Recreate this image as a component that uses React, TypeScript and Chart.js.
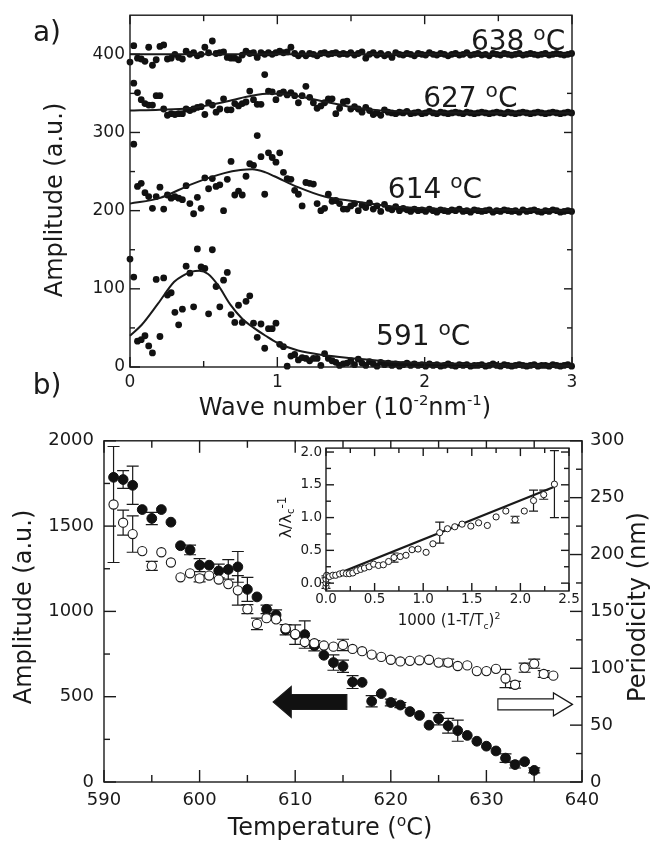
import React, { useEffect, useRef } from "react";
import { Chart, registerables } from "chart.js";
Chart.register(...registerables);

const FONT = "'DejaVu Sans', sans-serif";
const INK = "#1a1a1a";

// ---------- Panel a: amplitude spectra ----------
const WAVE_STEP = 0.0254;
const S591 = [138,115,33,35,40,27,18,112,39,114,92,95,70,54,74,129,120,77,151,128,126,68,150,103,77,111,121,67,57,79,57,84,91,56,38,55,24,49,49,56,29,26,1,14,16,9,12,11,8,11,11,2,17,11,8,6,2,4,5,
  8,3,10,5,2,7,4,1,6,3,5,2,4,1,3,5,2,4,2,3,1,4,2,3,1,2,4,2,1,3,2,3,1,2,2,3,1,2,4,2,1,3,2,1,2,3,2,1,2,3,1,2,2,1,3,2,1,2,3,1];
const S614 = [null,285,231,235,223,218,203,218,230,202,220,216,218,216,214,232,209,196,217,203,242,228,241,231,233,200,240,263,220,225,220,244,260,258,296,269,221,274,268,262,274,249,241,240,226,221,206,236,235,234,209,200,203,221,212,213,209,202,202,206,209,200,
  207,204,210,202,206,199,208,203,201,205,200,203,201,199,202,200,201,199,202,200,198,201,200,199,201,200,202,199,200,198,201,200,199,200,201,198,200,199,201,200,199,200,198,201,199,200,201,199,198,200,199,201,200,198,199,200,199];
const S627 = [null,363,351,342,337,335,335,347,347,330,322,324,323,324,324,330,328,330,332,333,323,338,335,326,330,343,329,329,337,334,337,339,353,342,336,336,374,353,352,342,350,352,348,351,347,338,347,359,345,338,331,334,338,343,343,324,331,339,340,330,
  333,330,326,332,328,323,325,322,329,326,325,324,326,325,327,324,325,326,324,325,327,325,324,326,325,324,325,326,325,324,326,325,324,325,326,325,324,325,326,325,324,326,325,324,325,326,325,324,325,326,325,324,325,326,325,324,325,326,325];
const S638 = [390,411,395,394,391,409,386,393,410,412,394,395,400,396,394,404,400,402,398,400,409,402,417,401,402,403,396,395,395,393,399,404,401,402,396,402,400,402,400,402,404,402,403,409,401,398,401,398,401,400,398,401,402,400,401,402,400,401,400,
  402,399,401,403,395,400,402,399,401,398,400,396,402,400,399,401,400,398,401,400,399,402,400,399,401,400,398,400,401,399,400,402,399,400,401,399,400,398,401,400,399,401,400,399,400,401,399,400,401,400,399,400,401,399,400,401,400,399,400,401];

const FIT591_X = [0,0.08,0.19,0.3,0.36,0.42,0.47,0.53,0.6,0.68,0.76,0.84,0.92,1.0,1.14,1.32,1.52,1.75,2.0,2.5,3.0];
const FIT591_Y = [40,54,81,109,117,122,123,119,104,80,62,50,40,31,21,15,11,7,5,3,2];
const FIT614_X = [0,0.2,0.42,0.64,0.75,0.83,0.92,0.98,1.14,1.32,1.52,1.75,2.0,2.5,3.0];
const FIT614_Y = [209,216,234,248,252,253,249,244,230,218,212,206,203,201,200];
const FIT627_X = [0,0.2,0.4,0.64,0.8,0.95,1.1,1.23,1.41,1.52,1.7,2.0,2.5,3.0];
const FIT627_Y = [328,329,331,339,346,350,348,343,336,332,328,326,325,325];
const FIT638_X = [0,3];
const FIT638_Y = [400,400];

const TEMP_LABELS = ["638", "627", "614", "591"];
const TEMP_LABEL_X = [2.634, 2.31, 2.07, 1.99];
const TEMP_LABEL_Y = [418, 346, 228.5, 41];

const A_X_TICKS = [0, 1, 2, 3];
const A_X_MINOR = [0.5, 1.5, 2.5];
const A_Y_TICKS = [0, 100, 200, 300, 400];
const A_Y_MINOR = [50, 150, 250, 350];

// ---------- Panel b: amplitude and periodicity vs temperature ----------
const T_AMP = [591,592,593,594,595,596,597,598,599,600,601,602,603,604,605,606,607,608,609,610,611,612,613,614,615,616,617,618,619,620,621,622,623,624,625,626,627,628,629,630,631,632,633,634,635];
const AMP = [1786,1773,1739,1597,1545,1597,1523,1385,1360,1271,1271,1237,1246,1261,1129,1085,1012,979,892,864,864,799,743,700,678,586,584,473,518,466,451,413,390,333,371,330,301,273,239,210,182,140,102,119,68];
const AMP_ERR = [0,52,112,0,36,0,0,0,28,38,0,40,57,90,70,0,25,30,30,57,80,30,0,45,36,38,0,33,0,20,15,0,0,0,36,43,62,0,0,0,0,25,20,0,15];
const T_PER = [591,592,593,594,595,596,597,598,599,600,601,602,603,604,605,606,607,608,609,610,611,612,613,614,615,616,617,618,619,620,621,622,623,624,625,626,627,628,629,630,631,632,633,634,635,636,637];
const PER = [244,228,218,203,190,202,193,180,183.5,179,181.5,178,174,168.5,152,139,144,143,135,130,123,122,120,119,120.5,117,115,112,110,107.5,106,106.5,107,107.5,105,105,102,102.5,97.5,97.5,99.5,91,85.5,100.5,104,95,93.5];
const PER_ERR = [51,11,16,0,4,0,0,0,0,3,0,0,0,13,4,5,0,0,0,0,0,0,0,0,5,0,0,0,0,0,0,0,0,0,0,3,0,0,0,0,0,8,3,4,4,3,0];

const B_X_TICKS = [590, 600, 610, 620, 630, 640];
const B_X_MINOR = [595, 605, 615, 625, 635];
const B_Y_TICKS = [0, 500, 1000, 1500, 2000];
const B_Y_MINOR = [250, 750, 1250, 1750];
const B_Y2_TICKS = [0, 50, 100, 150, 200, 250, 300];
const B_Y2_MINOR = [25, 75, 125, 175, 225, 275];

// arrows (data coordinates on the amplitude axis)
const ARROW_FILLED = { tipT: 607.7, tailT: 615.4, amp: 469 };
const ARROW_OPEN = { tipT: 639.0, tailT: 631.2, amp: 455 };

// ---------- Inset ----------
const INSET_X = [0.0,0.0,0.0,0.007,0.035,0.07,0.10,0.14,0.175,0.21,0.24,0.276,0.317,0.357,0.396,0.444,0.49,0.54,0.59,0.644,0.70,0.764,0.823,0.885,0.947,1.03,1.10,1.17,1.25,1.325,1.40,1.49,1.57,1.66,1.75,1.85,1.945,2.04,2.135,2.24,2.35];
const INSET_Y = [-0.05,0.0,0.06,0.12,0.10,0.12,0.12,0.14,0.155,0.145,0.145,0.155,0.19,0.21,0.23,0.25,0.29,0.27,0.28,0.33,0.39,0.405,0.425,0.51,0.52,0.47,0.60,0.77,0.83,0.86,0.90,0.87,0.92,0.88,1.01,1.10,0.97,1.10,1.26,1.35,1.51];
const INSET_ERR = [0,0.08,0.05,0,0,0,0,0,0,0,0,0,0,0,0,0,0,0,0,0,0.07,0,0,0,0,0,0,0.16,0,0,0,0,0,0,0,0,0.05,0,0.16,0.07,0.51];
const INSET_FIT_X = [0, 2.35];
const INSET_FIT_Y = [0.07, 1.47];
const I_X_TICKS = [0, 0.5, 1.0, 1.5, 2.0, 2.5];
const I_X_MINOR = [0.25, 0.75, 1.25, 1.75, 2.25];
const I_Y_TICKS = [0, 0.5, 1.0, 1.5, 2.0];
const I_Y_MINOR = [0.25, 0.75, 1.25, 1.75];

// ---------- helpers ----------
type Seg = { t: string; k?: "sup" | "sub"; s?: number; d?: number };

function drawRich(ctx: any, segs: Seg[], cx: number, cy: number, size: number, rot = 0) {
  ctx.save();
  ctx.translate(cx, cy);
  if (rot) ctx.rotate(rot);
  const info = segs.map((sg) => {
    const sz = size * (sg.s ?? (sg.k ? 0.62 : 1));
    ctx.font = `${sz}px ${FONT}`;
    return { ...sg, sz, w: ctx.measureText(sg.t).width };
  });
  const total = info.reduce((a, b) => a + b.w, 0);
  let x = -total / 2;
  const base = size * 0.36;
  ctx.fillStyle = INK;
  ctx.textAlign = "left";
  ctx.textBaseline = "alphabetic";
  for (const sg of info) {
    ctx.font = `${sg.sz}px ${FONT}`;
    const dy = sg.d !== undefined ? sg.d * size : sg.k === "sup" ? -size * 0.42 : sg.k === "sub" ? size * 0.22 : 0;
    ctx.fillText(sg.t, x, base + dy);
    x += sg.w;
  }
  ctx.restore();
}

type TickSpec = { axis: string; side: "left" | "right" | "top" | "bottom"; major: number[]; minor: number[]; maj: number; min: number };

function drawFrame(chart: any, specs: TickSpec[]) {
  const { ctx, chartArea: a } = chart;
  ctx.save();
  ctx.strokeStyle = INK;
  ctx.lineWidth = 1.4;
  for (const sp of specs) {
    const sc = chart.scales[sp.axis];
    const one = (vals: number[], len: number) =>
      vals.forEach((v) => {
        const p = sc.getPixelForValue(v);
        ctx.beginPath();
        if (sp.side === "bottom") { ctx.moveTo(p, a.bottom); ctx.lineTo(p, a.bottom - len); }
        if (sp.side === "top") { ctx.moveTo(p, a.top); ctx.lineTo(p, a.top + len); }
        if (sp.side === "left") { ctx.moveTo(a.left, p); ctx.lineTo(a.left + len, p); }
        if (sp.side === "right") { ctx.moveTo(a.right, p); ctx.lineTo(a.right - len, p); }
        ctx.stroke();
      });
    one(sp.major, sp.maj);
    one(sp.minor, sp.min);
  }
  ctx.strokeRect(a.left, a.top, a.right - a.left, a.bottom - a.top);
  ctx.restore();
}

function drawErrors(chart: any, cap: number) {
  const { ctx } = chart;
  ctx.save();
  ctx.strokeStyle = INK;
  ctx.lineWidth = 1.2;
  chart.data.datasets.forEach((ds: any, di: number) => {
    if (!ds.errs) return;
    const meta = chart.getDatasetMeta(di);
    const ys = chart.scales[meta.yAxisID];
    ds.data.forEach((pt: any, i: number) => {
      const e = ds.errs[i];
      if (!e) return;
      const x = meta.data[i].x;
      const y1 = ys.getPixelForValue(pt.y + e);
      const y2 = ys.getPixelForValue(pt.y - e);
      ctx.beginPath();
      ctx.moveTo(x, y1); ctx.lineTo(x, y2);
      ctx.moveTo(x - cap, y1); ctx.lineTo(x + cap, y1);
      ctx.moveTo(x - cap, y2); ctx.lineTo(x + cap, y2);
      ctx.stroke();
    });
  });
  ctx.restore();
}

function pts(xs: number[], ys: (number | null)[]) {
  const out: { x: number; y: number }[] = [];
  xs.forEach((x, i) => { if (ys[i] !== null && ys[i] !== undefined) out.push({ x, y: ys[i] as number }); });
  return out;
}
function wave(ys: (number | null)[]) {
  return pts(ys.map((_, i) => i * WAVE_STEP), ys);
}

function axis(min: number, max: number, ticks: number[], size: number, pad: number, fit: number, horiz: boolean, pos: string, fmt: (v: number) => string) {
  return {
    type: "linear",
    position: pos,
    min,
    max,
    grid: { display: false, drawTicks: false },
    border: { display: false },
    afterBuildTicks: (s: any) => { s.ticks = ticks.map((v) => ({ value: v })); },
    afterFit: (s: any) => { if (horiz) s.height = fit; else s.width = fit; },
    ticks: { font: { family: FONT, size }, color: INK, padding: pad, autoSkip: false, maxRotation: 0, minRotation: 0, callback: (v: number) => fmt(v) },
  };
}

const baseOpts = {
  responsive: false,
  maintainAspectRatio: false,
  devicePixelRatio: 1,
  animation: false,
  events: [],
  plugins: { legend: { display: false }, tooltip: { enabled: false } },
};

function ChartBox({ left, top, width, height, make }: any) {
  const ref = useRef<HTMLCanvasElement>(null);
  useEffect(() => {
    const chart = new Chart(ref.current as HTMLCanvasElement, make());
    return () => chart.destroy();
  }, []);
  return (
    <div style={{ position: "absolute", left, top, width, height }}>
      <canvas ref={ref} width={width} height={height} style={{ width, height, display: "block" }} />
    </div>
  );
}

const fitLine = (xs: number[], ys: number[]) => ({
  type: "line",
  data: pts(xs, ys),
  borderColor: INK,
  borderWidth: 2,
  pointRadius: 0,
  cubicInterpolationMode: "monotone",
  fill: false,
  clip: false,
});
const dots = (ys: (number | null)[]) => ({
  type: "scatter",
  data: wave(ys),
  pointRadius: 3.4,
  pointBackgroundColor: "#111",
  pointBorderWidth: 0,
  showLine: false,
  clip: false,
});

function makeA() {
  return {
    type: "scatter",
    data: {
      datasets: [
        fitLine(FIT591_X, FIT591_Y), fitLine(FIT614_X, FIT614_Y), fitLine(FIT627_X, FIT627_Y), fitLine(FIT638_X, FIT638_Y),
        dots(S591), dots(S614), dots(S627), dots(S638),
      ],
    },
    options: {
      ...baseOpts,
      layout: { padding: { top: 3, right: 83, left: 0, bottom: 0 } },
      scales: {
        x: axis(0, 3, A_X_TICKS, 17, 5, 53, true, "bottom", (v) => String(v)),
        y: axis(0, 450, A_Y_TICKS, 17, 5, 130, false, "left", (v) => String(v)),
      },
    },
    plugins: [{
      id: "decorA",
      afterDraw(chart: any) {
        drawFrame(chart, [
          { axis: "x", side: "bottom", major: A_X_TICKS, minor: A_X_MINOR, maj: 10, min: 6 },
          { axis: "x", side: "top", major: A_X_TICKS, minor: A_X_MINOR, maj: 9, min: 6 },
          { axis: "y", side: "left", major: A_Y_TICKS, minor: A_Y_MINOR, maj: 10, min: 5 },
          { axis: "y", side: "right", major: A_Y_TICKS, minor: A_Y_MINOR, maj: 8, min: 5 },
        ]);
        const { ctx } = chart;
        const xs = chart.scales.x, ys = chart.scales.y;
        TEMP_LABELS.forEach((t, i) => {
          drawRich(ctx, [{ t: t + " " }, { t: "o", k: "sup", s: 0.72, d: -0.36 }, { t: "C" }], xs.getPixelForValue(TEMP_LABEL_X[i]), ys.getPixelForValue(TEMP_LABEL_Y[i]), 28);
        });
        drawRich(ctx, [{ t: "a)" }], 47, 31, 28);
        drawRich(ctx, [{ t: "b)" }], 47, 384, 28);
        drawRich(ctx, [{ t: "Amplitude (a.u.)" }], 53, 200, 24, -Math.PI / 2);
        drawRich(ctx, [{ t: "Wave number (10" }, { t: "-2", k: "sup" }, { t: "nm" }, { t: "-1", k: "sup" }, { t: ")" }], 345, 406, 24);
      },
    }],
  };
}

function arrow(ctx: any, tipX: number, tailX: number, y: number, headLen: number, headH: number, shaftH: number, filled: boolean) {
  const dir = tipX < tailX ? 1 : -1;
  const hb = tipX + dir * headLen;
  ctx.beginPath();
  ctx.moveTo(tipX, y);
  ctx.lineTo(hb, y - headH);
  ctx.lineTo(hb, y - shaftH);
  ctx.lineTo(tailX, y - shaftH);
  ctx.lineTo(tailX, y + shaftH);
  ctx.lineTo(hb, y + shaftH);
  ctx.lineTo(hb, y + headH);
  ctx.closePath();
  ctx.fillStyle = filled ? "#111" : "#fff";
  ctx.fill();
  ctx.strokeStyle = INK;
  ctx.lineWidth = 1.2;
  ctx.stroke();
}

function makeB() {
  return {
    type: "scatter",
    data: {
      datasets: [
        {
          data: pts(T_PER, PER), errs: PER_ERR, yAxisID: "y2",
          pointRadius: 4.6, pointBackgroundColor: "#fff", pointBorderColor: INK, pointBorderWidth: 1.1, showLine: false, clip: false,
        },
        {
          data: pts(T_AMP, AMP), errs: AMP_ERR, yAxisID: "y",
          pointRadius: 4.9, pointBackgroundColor: "#111", pointBorderColor: "#111", pointBorderWidth: 1, showLine: false, clip: false,
        },
      ],
    },
    options: {
      ...baseOpts,
      layout: { padding: { top: 11, right: 0, left: 0, bottom: 0 } },
      scales: {
        x: axis(590, 640, B_X_TICKS, 18, 8, 66, true, "bottom", (v) => String(v)),
        y: axis(0, 2000, B_Y_TICKS, 18, 10, 104, false, "left", (v) => String(v)),
        y2: axis(0, 300, B_Y2_TICKS, 18, 8, 73, false, "right", (v) => String(v)),
      },
    },
    plugins: [{
      id: "decorB",
      beforeDatasetsDraw(chart: any) { drawErrors(chart, 6); },
      afterDraw(chart: any) {
        drawFrame(chart, [
          { axis: "x", side: "bottom", major: B_X_TICKS, minor: B_X_MINOR, maj: 12, min: 7 },
          { axis: "x", side: "top", major: B_X_TICKS, minor: B_X_MINOR, maj: 12, min: 7 },
          { axis: "y", side: "left", major: B_Y_TICKS, minor: B_Y_MINOR, maj: 12, min: 6 },
          { axis: "y2", side: "right", major: B_Y2_TICKS, minor: B_Y2_MINOR, maj: 12, min: 6 },
        ]);
        const { ctx } = chart;
        const xs = chart.scales.x, ys = chart.scales.y;
        arrow(ctx, xs.getPixelForValue(ARROW_FILLED.tipT), xs.getPixelForValue(ARROW_FILLED.tailT), ys.getPixelForValue(ARROW_FILLED.amp), 18, 15.5, 7.5, true);
        arrow(ctx, xs.getPixelForValue(ARROW_OPEN.tipT), xs.getPixelForValue(ARROW_OPEN.tailT), ys.getPixelForValue(ARROW_OPEN.amp), 19, 11.5, 5.5, false);
        drawRich(ctx, [{ t: "Amplitude (a.u.)" }], 22, 187, 24, -Math.PI / 2);
        drawRich(ctx, [{ t: "Periodicity (nm)" }], 636, 187, 24, -Math.PI / 2);
        drawRich(ctx, [{ t: "Temperature (" }, { t: "o", k: "sup", s: 0.65, d: -0.38 }, { t: "C)" }], 330, 406.5, 24);
      },
    }],
  };
}

function makeInset() {
  return {
    type: "scatter",
    data: {
      datasets: [
        {
          data: pts(INSET_X, INSET_Y), errs: INSET_ERR,
          pointRadius: 3.1, pointBackgroundColor: "#fff", pointBorderColor: INK, pointBorderWidth: 1, showLine: false, clip: false,
        },
        {
          type: "line", data: pts(INSET_FIT_X, INSET_FIT_Y), borderColor: INK, borderWidth: 2.2, pointRadius: 0, fill: false,
        },
      ],
    },
    options: {
      ...baseOpts,
      layout: { padding: { top: 8, right: 21, left: 0, bottom: 0 } },
      scales: {
        x: axis(0, 2.5, I_X_TICKS, 13.5, 0, 45, true, "bottom", (v) => v.toFixed(1)),
        y: axis(-0.12, 2.06, I_Y_TICKS, 13.5, 4, 56, false, "left", (v) => v.toFixed(1)),
      },
    },
    plugins: [{
      id: "decorI",
      beforeDraw(chart: any) {
        const { ctx, chartArea: a } = chart;
        ctx.save();
        ctx.fillStyle = "#fff";
        ctx.fillRect(a.left, a.top, a.right - a.left, a.bottom - a.top);
        ctx.restore();
      },
      beforeDatasetsDraw(chart: any) { drawErrors(chart, 4.5); },
      afterDraw(chart: any) {
        drawFrame(chart, [
          { axis: "x", side: "bottom", major: I_X_TICKS, minor: I_X_MINOR, maj: 8, min: 5 },
          { axis: "x", side: "top", major: I_X_TICKS, minor: I_X_MINOR, maj: 8, min: 5 },
          { axis: "y", side: "left", major: I_Y_TICKS, minor: I_Y_MINOR, maj: 8, min: 5 },
          { axis: "y", side: "right", major: I_Y_TICKS, minor: I_Y_MINOR, maj: 8, min: 5 },
        ]);
        const { ctx } = chart;
        drawRich(ctx, [{ t: "1000 (1-T/T" }, { t: "c", k: "sub" }, { t: ")" }, { t: "2", k: "sup" }], 179, 184, 15);
        drawRich(ctx, [{ t: "λ/λ" }, { t: "c", k: "sub" }, { t: "-1", k: "sup", s: 0.75, d: -0.3 }], 15, 81.5, 16, -Math.PI / 2);
      },
    }],
  };
}

export default function App() {
  return (
    <div style={{ position: "absolute", left: 0, top: 0, width: 655, height: 848, background: "#fff", overflow: "hidden" }}>
      <ChartBox left={0} top={0} width={655} height={420} make={makeA} />
      <ChartBox left={0} top={420} width={655} height={428} make={makeB} />
      <ChartBox left={270} top={436} width={320} height={200} make={makeInset} />
    </div>
  );
}
